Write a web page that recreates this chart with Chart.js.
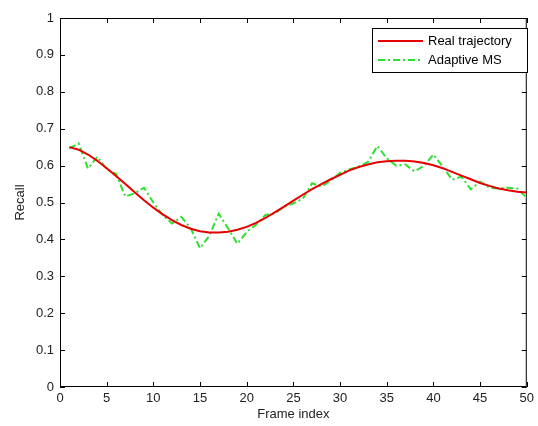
<!DOCTYPE html>
<html><head><meta charset="utf-8">
<script src="https://cdn.jsdelivr.net/npm/chart.js@4.4.1/dist/chart.umd.min.js"></script>
<style>html,body{margin:0;padding:0;background:#fff;overflow:hidden}#wrap{width:538px;height:426px}</style>
</head><body><div id="wrap"><canvas id="c" width="538" height="426"></canvas></div>
<script>
const frames = [1,2,3,4,5,6,7,8,9,10,11,12,13,14,15,16,17,18,19,20,21,22,23,24,25,26,27,28,29,30,31,32,33,34,35,36,37,38,39,40,41,42,43,44,45,46,47,48,49,50];
const realTrajectory = [0.650,0.643,0.630,0.613,0.593,0.572,0.550,0.528,0.506,0.486,0.468,0.452,0.439,0.429,0.422,0.419,0.419,0.421,0.426,0.434,0.445,0.458,0.473,0.489,0.505,0.521,0.536,0.550,0.563,0.575,0.587,0.596,0.603,0.609,0.612,0.613,0.613,0.611,0.607,0.601,0.593,0.583,0.573,0.563,0.553,0.545,0.538,0.533,0.529,0.527];
const adaptiveMS = [0.647,0.660,0.592,0.624,0.590,0.578,0.516,0.525,0.540,0.500,0.465,0.443,0.461,0.430,0.376,0.410,0.470,0.430,0.388,0.420,0.440,0.466,0.470,0.488,0.498,0.510,0.552,0.543,0.560,0.580,0.590,0.597,0.610,0.653,0.620,0.600,0.603,0.584,0.600,0.630,0.597,0.562,0.570,0.536,0.556,0.540,0.538,0.540,0.538,0.512];
const xTickLabels = ['0','5','10','15','20','25','30','35','40','45','50'];
const yTickLabels = ['0','0.1','0.2','0.3','0.4','0.5','0.6','0.7','0.8','0.9','1'];
const seriesLabels = ['Real trajectory','Adaptive MS'];
const xTitle = 'Frame index';
const yTitle = 'Recall';

const FONT = 'Liberation Sans, Arial, sans-serif';
const RED = '#e60000';
const GREEN = '#2ee02e';
const DASH = [7,3,2,3];

const boxTicks = {
  id: 'boxTicks',
  beforeDatasetsDraw(chart) {
    const {ctx, chartArea: a, scales} = chart;
    ctx.save();
    ctx.strokeStyle = '#000';
    ctx.lineWidth = 1;
    ctx.strokeRect(a.left + 0.5, a.top + 0.5, a.right - a.left - 1, a.bottom - a.top - 1);
    const L = 5;
    ctx.beginPath();
    scales.x.ticks.forEach(t => {
      const px = Math.round(scales.x.getPixelForValue(t.value)) + 0.5;
      ctx.moveTo(px, a.bottom); ctx.lineTo(px, a.bottom - L);
      ctx.moveTo(px, a.top); ctx.lineTo(px, a.top + L);
    });
    scales.y.ticks.forEach(t => {
      const py = Math.round(scales.y.getPixelForValue(t.value)) + 0.5;
      ctx.moveTo(a.left, py); ctx.lineTo(a.left + L, py);
      ctx.moveTo(a.right, py); ctx.lineTo(a.right - L, py);
    });
    ctx.stroke();
    ctx.restore();
  }
};

const boxLegend = {
  id: 'boxLegend',
  afterDraw(chart) {
    const ctx = chart.ctx;
    ctx.save();
    const x0 = 372, y0 = 28, w = 155, h = 44;
    ctx.fillStyle = '#fff';
    ctx.fillRect(x0, y0, w, h);
    ctx.strokeStyle = '#000';
    ctx.lineWidth = 1;
    ctx.strokeRect(x0 + 0.5, y0 + 0.5, w, h);
    const rows = [41, 60];
    chart.data.datasets.forEach((ds, i) => {
      const y = rows[i];
      ctx.strokeStyle = ds.borderColor;
      ctx.lineWidth = ds.borderWidth;
      ctx.setLineDash(ds.borderDash || []);
      ctx.beginPath();
      ctx.moveTo(378, y); ctx.lineTo(423, y);
      ctx.stroke();
      ctx.setLineDash([]);
      ctx.fillStyle = '#000';
      ctx.font = '13px ' + FONT;
      ctx.textBaseline = 'middle';
      ctx.textAlign = 'left';
      ctx.fillText(ds.label, 428, y);
    });
    ctx.restore();
  }
};

new Chart(document.getElementById('c'), {
  type: 'line',
  data: {
    datasets: [
      {
        label: seriesLabels[0],
        data: frames.map((f, i) => ({x: f, y: realTrajectory[i]})),
        borderColor: RED, borderWidth: 2, pointRadius: 0, tension: 0, fill: false
      },
      {
        label: seriesLabels[1],
        data: frames.map((f, i) => ({x: f, y: adaptiveMS[i]})),
        borderColor: GREEN, borderWidth: 2, borderDash: DASH, pointRadius: 0, tension: 0, fill: false
      }
    ]
  },
  options: {
    responsive: false,
    animation: false,
    devicePixelRatio: 1,
    layout: {padding: {top: 18, right: 7, left: 0, bottom: 0}},
    plugins: {legend: {display: false}, tooltip: {enabled: false}},
    scales: {
      x: {
        type: 'linear', min: 0, max: 50,
        border: {display: false},
        grid: {display: false, drawTicks: false},
        ticks: {
          stepSize: 5, padding: 4, color: '#222', maxRotation: 0,
          font: {family: FONT, size: 13},
          callback: (v) => xTickLabels[Math.round(v / 5)]
        },
        title: {display: true, text: xTitle, color: '#222', font: {family: FONT, size: 13}, padding: {top: 0, bottom: 4}},
        afterFit: (s) => { s.height = 39; }
      },
      y: {
        type: 'linear', min: 0, max: 1,
        border: {display: false},
        grid: {display: false, drawTicks: false},
        ticks: {
          stepSize: 0.1, padding: 6, color: '#222',
          font: {family: FONT, size: 13},
          callback: (v) => yTickLabels[Math.round(v * 10)]
        },
        title: {display: true, text: yTitle, color: '#222', font: {family: FONT, size: 13}, padding: {top: 13, bottom: 0}},
        afterFit: (s) => { s.width = 60; }
      }
    }
  },
  plugins: [boxTicks, boxLegend]
});
</script>
</body></html>
